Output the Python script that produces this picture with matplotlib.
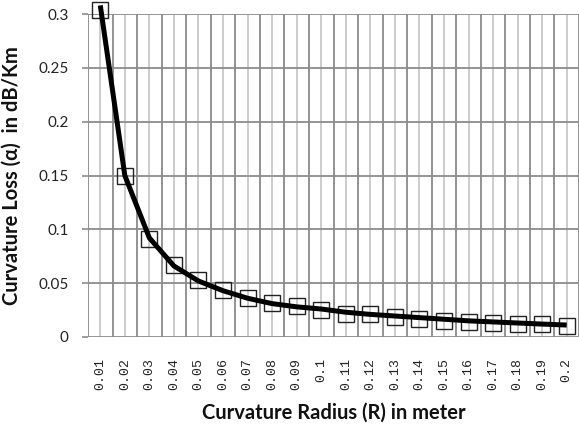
import matplotlib
matplotlib.use("Agg")
import matplotlib.pyplot as plt
import numpy as np

radius_labels = ["0.01", "0.02", "0.03", "0.04", "0.05", "0.06", "0.07", "0.08", "0.09", "0.1",
                 "0.11", "0.12", "0.13", "0.14", "0.15", "0.16", "0.17", "0.18", "0.19", "0.2"]
loss_markers = [0.304, 0.150, 0.091, 0.067, 0.053, 0.044, 0.036, 0.032, 0.0288, 0.025,
                0.0214, 0.0214, 0.0189, 0.0167, 0.0152, 0.0136, 0.0127, 0.0118, 0.0118, 0.0105]
loss_line = [0.308, 0.150, 0.092, 0.066, 0.052, 0.043, 0.036, 0.031, 0.028, 0.026,
             0.023, 0.021, 0.0195, 0.018, 0.0165, 0.015, 0.014, 0.013, 0.012, 0.0111]
y_ticks = [0, 0.05, 0.1, 0.15, 0.2, 0.25, 0.3]
y_tick_labels = ["0", "0.05", "0.1", "0.15", "0.2", "0.25", "0.3"]

W, H = 579, 424
fig = plt.figure(figsize=(W / 100, H / 100), dpi=100)
ax = fig.add_axes([88 / W, 1 - 337 / H, 491 / W, (337 - 14) / H])

x = np.arange(len(radius_labels))
ax.set_xlim(-0.5, len(radius_labels) - 0.5)
ax.set_ylim(0, 0.3)

# vertical grid: light at categories, dark at boundaries
for xi in x:
    ax.axvline(xi, color="#c8c8c8", lw=1.3, zorder=1)
for xb in np.arange(-0.5, len(radius_labels), 1.0):
    ax.axvline(xb, color="#8a8a8a", lw=1.3, zorder=1.2)
for yv in y_ticks:
    ax.axhline(yv, color="#8c8c8c", lw=1.3, zorder=1.1)

ax.plot(x, loss_markers, linestyle="none", marker="s", markersize=11.5,
        markerfacecolor="none", markeredgecolor="#222222", markeredgewidth=1.0,
        zorder=3, clip_on=False)
ax.plot(x, loss_line, color="black", lw=3.6, zorder=4, clip_on=False,
        solid_joinstyle="round", solid_capstyle="butt")

for s in ax.spines.values():
    s.set_visible(False)

ax.set_yticks(y_ticks)
ax.set_yticklabels(y_tick_labels, fontfamily="Lato", fontsize=11, color="#222222")
ax.tick_params(axis="y", length=4, width=1.2, color="#8c8c8c", pad=10)

ax.set_xticks(x)
ax.set_xticklabels(radius_labels, rotation=90, fontfamily="Liberation Mono",
                   fontsize=9.5, color="#222222")
ax.tick_params(axis="x", length=0, pad=15)

ax.set_xlabel("Curvature Radius (R) in meter", fontfamily="Lato", fontweight="bold",
              fontsize=14.5, color="#111111", labelpad=9)
ax.set_ylabel("Curvature Loss (\u03b1)  in dB/Km", fontfamily="Lato", fontweight="bold",
              fontsize=14.5, color="#111111", labelpad=12)

fig.savefig("out.png", dpi=100)
